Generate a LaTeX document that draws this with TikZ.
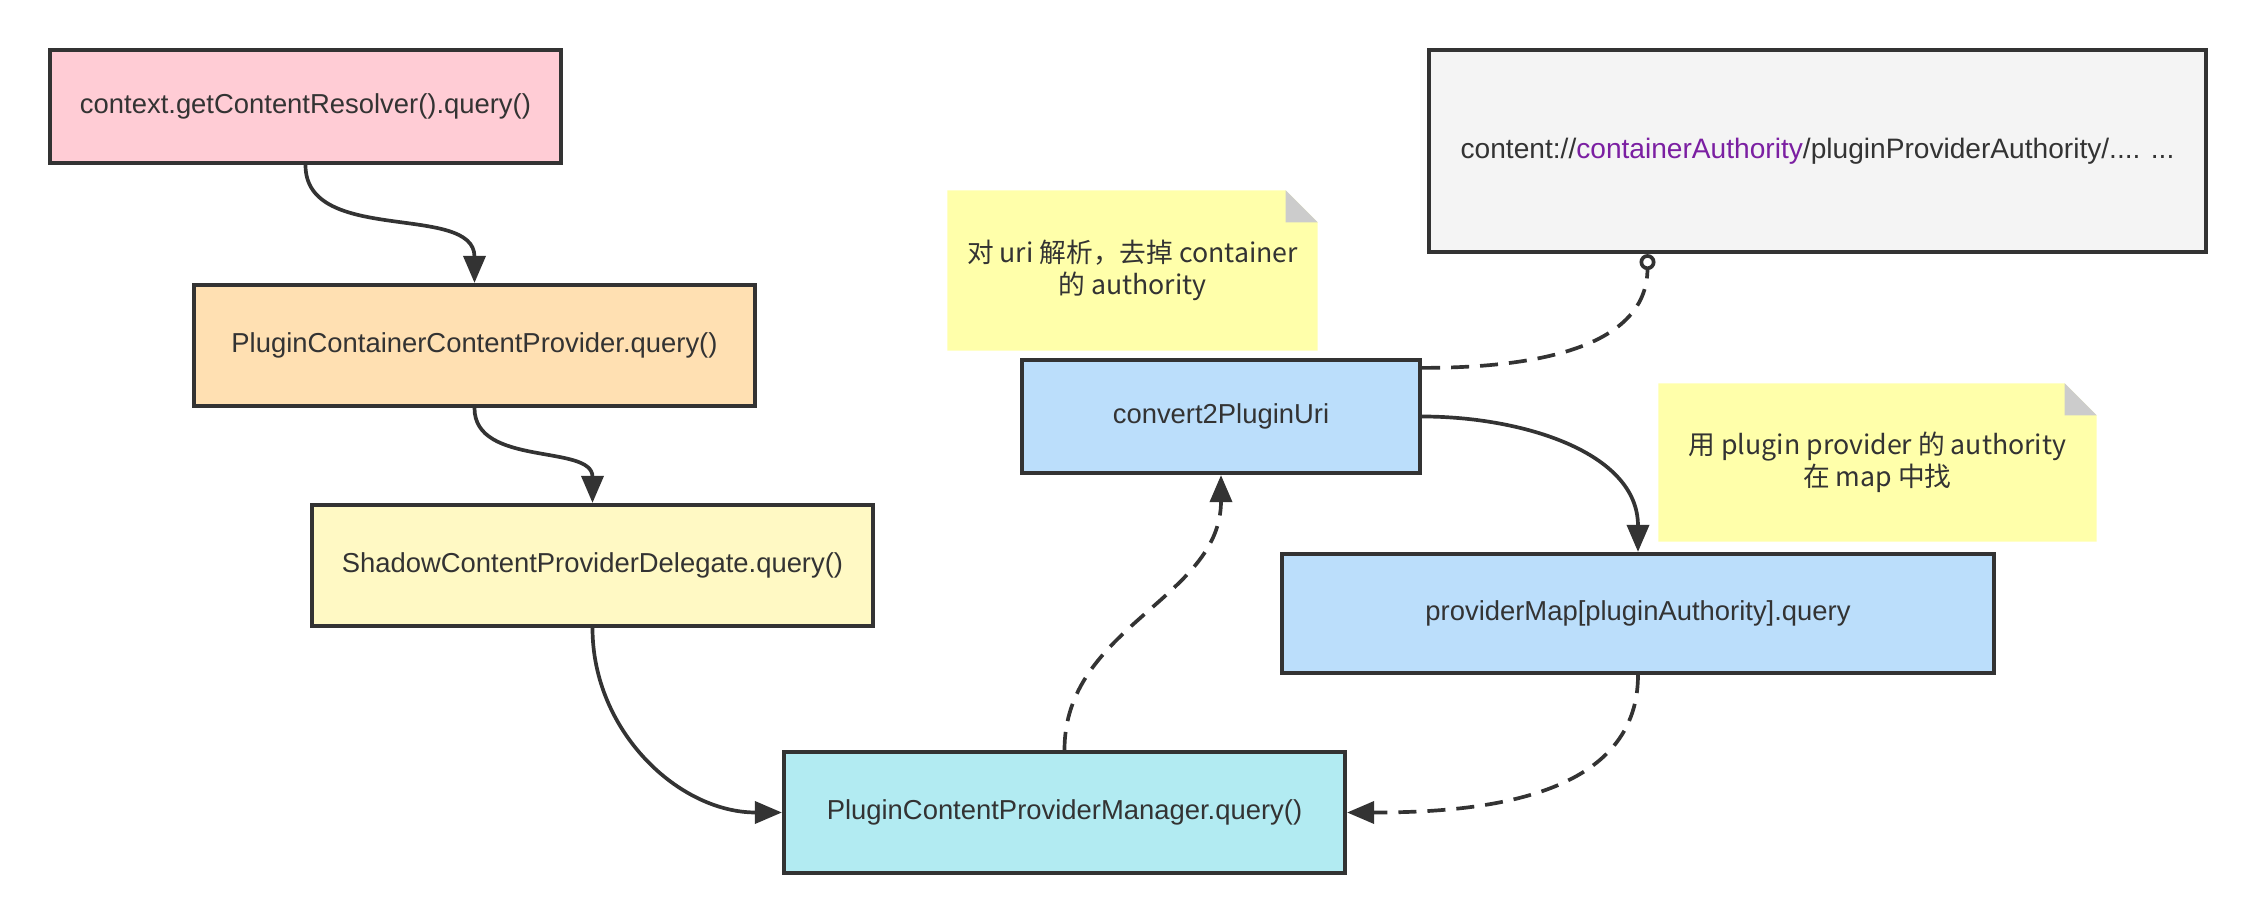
\documentclass[tikz,border=0pt]{standalone}
\usepackage{fontspec}
\setmainfont{Liberation Sans}
\newfontfamily\cjk{Noto Sans CJK SC}
\usetikzlibrary{arrows.meta, backgrounds}

\definecolor{edgegray}{HTML}{333333}
\definecolor{pinkfill}{HTML}{FFCCD5}
\definecolor{orangefill}{HTML}{FFE0B2}
\definecolor{yellowfill}{HTML}{FFF9C4}
\definecolor{cyanfill}{HTML}{B2EBF2}
\definecolor{bluefill}{HTML}{BBDEFB}
\definecolor{grayfill}{HTML}{F4F4F4}
\definecolor{notefill}{HTML}{FFFFAA}
\definecolor{foldgray}{HTML}{CCCCCC}
\definecolor{authpurple}{HTML}{7B1FA2}

\tikzset{
  box/.style={draw=edgegray, line width=1.2pt, inner sep=0pt, text=edgegray,
    font=\fontsize{7.8}{9.5}\selectfont},
  flow/.style={draw=edgegray, line width=1.05pt, -{Triangle[length=2.7mm,width=2.2mm]}},
  dashflow/.style={flow, dash pattern=on 1.8mm off 1.1mm},
  notetext/.style={align=center, inner sep=0pt, text=edgegray,
    font=\cjk\fontsize{7.6}{9.2}\selectfont},
}

\begin{document}
\begin{tikzpicture}
  \useasboundingbox (0,0) rectangle (22.56,-9.24);
  % Notes (yellow sticky notes with folded corner)
  \node[notetext, minimum width=3.69cm, minimum height=1.59cm] (uriNote) at (11.325,-2.705)
    {对 uri 解析，去掉 container\\的 authority};
  \node[notetext, minimum width=4.37cm, minimum height=1.57cm] (mapNote) at (18.775,-4.625)
    {用 plugin provider 的 authority\\在 map 中找};
  \begin{scope}[on background layer]
    \fill[notefill] (uriNote.south west) -- (uriNote.north west) -- ([xshift=-0.32cm]uriNote.north east)
      -- ([yshift=-0.32cm]uriNote.north east) -- (uriNote.south east) -- cycle;
    \fill[foldgray] ([xshift=-0.32cm]uriNote.north east) -- ([xshift=-0.32cm,yshift=-0.32cm]uriNote.north east)
      -- ([yshift=-0.32cm]uriNote.north east) -- cycle;
    \fill[notefill] (mapNote.south west) -- (mapNote.north west) -- ([xshift=-0.32cm]mapNote.north east)
      -- ([yshift=-0.32cm]mapNote.north east) -- (mapNote.south east) -- cycle;
    \fill[foldgray] ([xshift=-0.32cm]mapNote.north east) -- ([xshift=-0.32cm,yshift=-0.32cm]mapNote.north east)
      -- ([yshift=-0.32cm]mapNote.north east) -- cycle;
  \end{scope}
  % Call chain on the left
  \node[box, fill=pinkfill, minimum width=5.11cm, minimum height=1.13cm] (resolver) at (3.055,-1.065)
    {context.getContentResolver().query()};
  \node[box, fill=orangefill, minimum width=5.61cm, minimum height=1.21cm] (container) at (4.745,-3.455)
    {PluginContainerContentProvider.query()};
  \node[box, fill=yellowfill, minimum width=5.61cm, minimum height=1.21cm] (delegate) at (5.925,-5.655)
    {ShadowContentProviderDelegate.query()};
  \node[box, fill=cyanfill, minimum width=5.61cm, minimum height=1.21cm] (manager) at (10.645,-8.125)
    {PluginContentProviderManager.query()};
  % Uri handling on the right
  \node[box, fill=bluefill, minimum width=3.98cm, minimum height=1.13cm] (convert) at (12.21,-4.165)
    {convert2PluginUri};
  \node[box, fill=bluefill, minimum width=7.12cm, minimum height=1.19cm] (providerMap) at (16.38,-6.135)
    {providerMap[pluginAuthority].query};
  \node[box, fill=grayfill, minimum width=7.77cm, minimum height=2.02cm, font=\fontsize{8}{9.6}\selectfont]
    (uriBox) at (18.175,-1.51)
    {content://\textcolor{authpurple}{containerAuthority}/pluginProviderAuthority/.... ...};
  % Connectors
  \draw[flow] (resolver.south) to[out=-90, in=90] (container.north);
  \draw[flow] (container.south) to[out=-90, in=90] (delegate.north);
  \draw[flow] (delegate.south) to[out=-90, in=180] (manager.west);
  \draw[dashflow] (manager.north) to[out=90, in=-90] (convert.south);
  \draw[flow] (convert.east) to[out=0, in=90] (providerMap.north);
  \draw[dashflow] (providerMap.south) to[out=-90, in=0] (manager.east);
  \draw[draw=edgegray, line width=1.05pt, dash pattern=on 1.8mm off 1.1mm,
    -{Circle[open, length=1.6mm, width=1.6mm]}]
    ([yshift=-0.1cm]convert.north east) to[out=0, in=-90] ([xshift=-1.7cm]uriBox.south);
\end{tikzpicture}
\end{document}
